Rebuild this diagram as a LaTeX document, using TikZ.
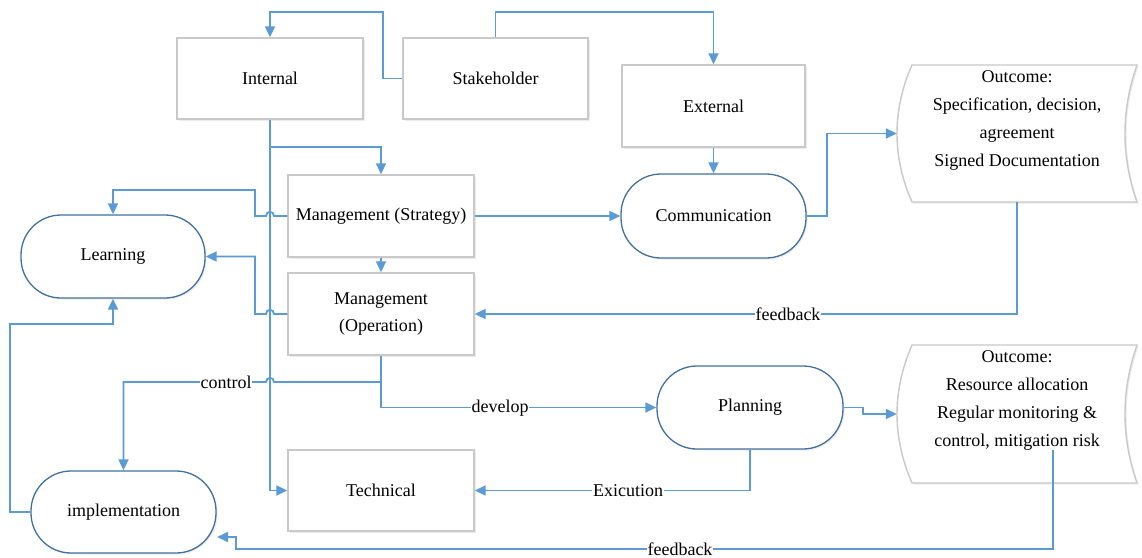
\documentclass[tikz,border=0pt]{standalone}
\usepackage{fontspec}
\setmainfont{Liberation Serif}
\usetikzlibrary{arrows.meta,shadows}
\definecolor{lineblue}{HTML}{5B9BD5}
\definecolor{boxgray}{HTML}{C9C9C9}
\definecolor{termblue}{HTML}{41719C}
\begin{document}
\begin{tikzpicture}[x=1pt,y=-1pt,
  font=\fontsize{18pt}{27pt}\selectfont,
  shad/.style={drop shadow={opacity=0.15,shadow xshift=1.5pt,shadow yshift=-1.5pt}},
  box/.style={draw=boxgray, line width=1.4pt, fill=white, minimum width=186pt, minimum height=82pt, inner sep=0pt, align=center, shad},
  term/.style={draw=termblue, line width=1.3pt, fill=white, rounded corners=40pt, minimum width=185pt, minimum height=83pt, inner sep=0pt, align=center, shad},
  outshape/.style={draw=boxgray, line width=1.4pt, fill=white, shad},
  conn/.style={draw=lineblue, line width=1.8pt},
  arr/.style={conn, -{Triangle[length=11pt,width=10pt]}},
  lbl/.style={fill=white, inner sep=1pt}
]
\fill[white] (0,0) rectangle (1142,557);
\useasboundingbox (0,0) rectangle (1142,557);

% outcome shapes
\path[outshape] (912,65) -- (1137,65) .. controls (1121,110) and (1121,157) .. (1137,202)
  -- (912,202) .. controls (892,157) and (892,110) .. (912,65) -- cycle;
\path[outshape] (912,345) -- (1137,345) .. controls (1121,391) and (1121,437) .. (1137,483)
  -- (912,483) .. controls (892,437) and (892,391) .. (912,345) -- cycle;
\node[minimum width=240pt, minimum height=137pt, inner sep=0pt] (out1) at (1017,133.5) {};
\node[minimum width=240pt, minimum height=138pt, inner sep=0pt] (out2) at (1017,414) {};
\node[align=center, inner sep=0pt, font=\fontsize{18pt}{28pt}\selectfont] (out1t) at (1017,120)
  {Outcome:\\Specification, decision,\\agreement\\Signed Documentation};
\node[align=center, inner sep=0pt, font=\fontsize{18pt}{28pt}\selectfont] (out2t) at (1017,400)
  {Outcome:\\Resource allocation\\Regular monitoring \&\\control, mitigation risk};

% boxes
\node[box, minimum height=81pt] (internal) at (270,78.5) {Internal};
\node[box, minimum width=185pt, minimum height=81pt] (stake) at (495.5,78.5) {Stakeholder};
\node[box, minimum width=183pt] (external) at (713.5,106) {External};
\node[box] (strat) at (381,216) {Management (Strategy)};
\node[box] (oper) at (381,314) {Management\\(Operation)};
\node[box, minimum height=81pt] (tech) at (381,490.5) {Technical};

% terminators
\node[term, minimum width=184pt] (learning) at (113,256.5) {Learning};
\node[term, minimum height=82pt] (impl) at (123.5,512) {implementation};
\node[term, minimum height=84pt] (comm) at (713.5,216) {Communication};
\node[term, minimum width=186pt] (plan) at (750,407.5) {Planning};

% helper coordinates
\coordinate (br) at (270,147);
\coordinate (ctl) at (381,382);
\coordinate (fb2) at (1053,450);
\coordinate (implin) at (217,537);

% connectors
\draw[arr] (stake.west) -- (383,78.5) -- (383,12) -| (internal.north);
\draw[arr] (stake.north) -- (495.5,12) -| (external.north);
\draw[arr] (internal.south) |- (tech.west);
\draw[arr] (br) -| (strat.north);
\draw[arr] (external.south) -- (comm.north);
\draw[arr] (strat.east) -- (comm.west);
\draw[arr] (strat.south) -- (oper.north);
\draw[arr] (strat.west) -- (274,216) .. controls (274,210.5) and (266,210.5) .. (266,216)
  -- (255,216) -- (255,190) -| (learning.north);
\draw[arr] (oper.west) -- (274,314) .. controls (274,308.5) and (266,308.5) .. (266,314)
  -- (255,314) |- (learning.east);
\draw[arr] (impl.west) -- (10,512) |- (113,324) -- (learning.south);
\draw[arr] (oper.south) |- (plan.west);
\draw[arr] (ctl) -- (274,382) .. controls (274,376.5) and (266,376.5) .. (266,382)
  -| (impl.north);
\draw[arr] (plan.south) |- (tech.east);
\draw[arr] (plan.east) -- (863,407.5) |- (out2.west);
\draw[arr] (comm.east) -- (827,216) |- (out1.west);
\draw[arr] (out1.south) |- (oper.east);
\draw[arr] (fb2) |- (236,549) -- (236,537) -- (implin);

% labels
\node[lbl] (lctl) at (226,382) {control};
\node[lbl] (ldev) at (500,408) {develop};
\node[lbl] (lexe) at (628,491) {Exicution};
\node[lbl] (lfb1) at (788,314) {feedback};
\node[lbl] (lfb2) at (680,549) {feedback};
\end{tikzpicture}
\end{document}
